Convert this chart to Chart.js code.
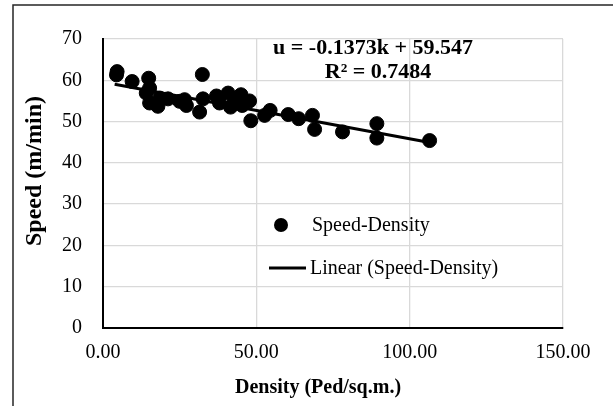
<!DOCTYPE html>
<html>
<head>
<meta charset="utf-8">
<script src="https://cdn.jsdelivr.net/npm/chart.js@4/dist/chart.umd.min.js"></script>
<style>
  html, body { margin: 0; padding: 0; background: #fff; }
  #wrap { width: 613px; height: 406px; position: relative; }
</style>
</head>
<body>
<div id="wrap"><canvas id="c" width="613" height="406"></canvas></div>
<script>
// ---- data ----
const density = [4.6, 4.4, 9.5, 14.9, 15.2, 14.1, 15.2, 17.9, 18.5, 21.2, 25.0, 27.2, 26.6, 31.5, 32.4, 32.6, 37.0, 38.0, 40.8, 41.6, 42.9, 45.0, 45.4, 47.8, 48.2, 52.7, 54.5, 60.4, 63.8, 68.3, 69.0, 78.1, 89.3, 89.3, 106.5];
const speed   = [62.1, 61.3, 59.7, 60.5, 58.1, 56.9, 54.5, 53.7, 55.7, 55.5, 54.9, 53.9, 55.3, 52.3, 61.4, 55.5, 56.2, 54.5, 56.9, 53.5, 54.9, 56.5, 53.9, 55.0, 50.2, 51.5, 52.7, 51.7, 50.7, 51.5, 48.1, 47.5, 49.5, 46.0, 45.4];
const trendSlope = -0.1373;
const trendIntercept = 59.547;
const trendRange = [3.8, 107];
const xTicks = [0, 50, 100, 150];
const yTicks = [0, 10, 20, 30, 40, 50, 60, 70];
const equationLines = ['u = -0.1373k + 59.547', 'R² = 0.7484'];
const seriesName = 'Speed-Density';
const trendName = 'Linear (Speed-Density)';
const xTitle = 'Density (Ped/sq.m.)';
const yTitle = 'Speed (m/min)';

const points = density.map((d, i) => ({ x: d, y: speed[i] }));
const trendPts = trendRange.map(x => ({ x: x, y: trendSlope * x + trendIntercept }));

const FONT = '"Liberation Serif", "Times New Roman", serif';

const decor = {
  id: 'decor',
  beforeDraw(chart) {
    const ctx = chart.ctx;
    ctx.save();
    ctx.fillStyle = '#fff';
    ctx.fillRect(0, 0, chart.width, chart.height);
    ctx.restore();
  },
  afterDraw(chart) {
    const ctx = chart.ctx;
    ctx.save();
    // outer chart border
    ctx.strokeStyle = '#262626';
    ctx.lineWidth = 1.5;
    ctx.beginPath();
    ctx.moveTo(13, 406);
    ctx.lineTo(13, 5);
    ctx.lineTo(613, 5);
    ctx.stroke();

    // axis titles
    ctx.fillStyle = '#000';
    ctx.font = 'bold 20px ' + FONT;
    ctx.textAlign = 'center';
    ctx.textBaseline = 'middle';
    ctx.fillText(xTitle, 318, 388);
    ctx.save();
    ctx.translate(35, 171);
    ctx.rotate(-Math.PI / 2);
    ctx.font = 'bold 24px ' + FONT;
    ctx.fillText(yTitle, 0, 0);
    ctx.restore();

    // equation
    ctx.font = 'bold 22px ' + FONT;
    ctx.textAlign = 'center';
    ctx.fillText(equationLines[0], 373, 48);
    ctx.fillText(equationLines[1], 378, 72);

    // legend
    ctx.font = '20px ' + FONT;
    ctx.textAlign = 'left';
    ctx.beginPath();
    ctx.arc(281, 225, 7, 0, Math.PI * 2);
    ctx.fill();
    ctx.fillText(seriesName, 312, 226);
    ctx.strokeStyle = '#000';
    ctx.lineWidth = 3;
    ctx.beginPath();
    ctx.moveTo(269, 268);
    ctx.lineTo(306, 268);
    ctx.stroke();
    ctx.fillText(trendName, 310, 269);
    ctx.restore();
  }
};

new Chart(document.getElementById('c'), {
  type: 'scatter',
  data: {
    datasets: [
      {
        label: seriesName,
        data: points,
        backgroundColor: '#000',
        borderColor: '#000',
        pointRadius: 7,
        pointHoverRadius: 7,
        order: 1
      },
      {
        type: 'line',
        label: trendName,
        data: trendPts,
        borderColor: '#000',
        borderWidth: 3,
        pointRadius: 0,
        showLine: true,
        fill: false,
        order: 0
      }
    ]
  },
  options: {
    responsive: false,
    animation: false,
    devicePixelRatio: 1,
    layout: { padding: { left: 0, top: 39, right: 50, bottom: 0 } },
    plugins: { legend: { display: false }, tooltip: { enabled: false }, title: { display: false } },
    scales: {
      x: {
        type: 'linear',
        min: 0, max: 150,
        afterBuildTicks(s) { s.ticks = xTicks.map(v => ({ value: v })); },
        afterFit(s) { s.height = 78; },
        grid: { color: '#d9d9d9', lineWidth: 1.3, drawTicks: false },
        border: { display: true, color: '#000', width: 2 },
        ticks: {
          padding: 13,
          color: '#000',
          font: { family: FONT, size: 20 },
          callback: v => Number(v).toFixed(2)
        }
      },
      y: {
        type: 'linear',
        min: 0, max: 70,
        afterBuildTicks(s) { s.ticks = yTicks.map(v => ({ value: v })); },
        afterFit(s) { s.width = 103; },
        grid: { color: '#d9d9d9', lineWidth: 1.3, drawTicks: false },
        border: { display: true, color: '#000', width: 2 },
        ticks: {
          padding: 21,
          color: '#000',
          font: { family: FONT, size: 20 },
          callback: v => String(v)
        }
      }
    }
  },
  plugins: [decor]
});
</script>
</body>
</html>
